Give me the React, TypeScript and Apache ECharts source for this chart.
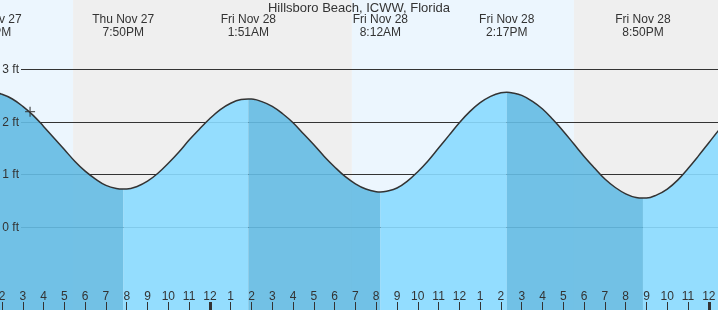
import React, { useEffect, useRef } from "react";
import * as echarts from "echarts";

const TITLE = "Hillsboro Beach, ICWW, Florida";
const FONT = "'Liberation Sans', Arial, sans-serif";

// time axis: hours since Thu Nov 27, 12:00 PM
const X_MIN = 1.904;
const X_MAX = 36.44;
const Y_MIN = -1.576;
const Y_MAX = 4.31;

// tide curve (hours, feet)
const hours = [1, 1.45, 1.5, 2, 2.5, 3, 3.5, 4, 4.5, 5, 5.5, 6, 6.5, 7, 7.5, 7.83, 8, 8.5, 9, 9.5, 10, 10.5, 11, 11.5, 12, 12.5, 13, 13.5, 13.85, 14, 14.5, 15, 15.5, 16, 16.5, 17, 17.5, 18, 18.5, 19, 19.5, 20, 20.2, 20.5, 21, 21.5, 22, 22.5, 23, 23.5, 24, 24.5, 25, 25.5, 26, 26.28, 26.5, 27, 27.5, 28, 28.5, 29, 29.5, 30, 30.5, 31, 31.5, 32, 32.5, 32.83, 33, 33.5, 34, 34.5, 35, 35.5, 36, 36.5, 37];
const heights = [2.54, 2.56, 2.56, 2.52, 2.43, 2.29, 2.12, 1.91, 1.69, 1.47, 1.25, 1.06, 0.91, 0.79, 0.73, 0.72, 0.72, 0.77, 0.87, 1.02, 1.21, 1.42, 1.65, 1.86, 2.06, 2.23, 2.35, 2.42, 2.43, 2.43, 2.38, 2.29, 2.15, 1.98, 1.77, 1.56, 1.34, 1.14, 0.96, 0.82, 0.72, 0.67, 0.665, 0.68, 0.74, 0.87, 1.05, 1.26, 1.5, 1.74, 1.98, 2.19, 2.36, 2.48, 2.55, 2.56, 2.55, 2.5, 2.39, 2.24, 2.04, 1.82, 1.58, 1.34, 1.12, 0.91, 0.75, 0.63, 0.56, 0.55, 0.55, 0.61, 0.72, 0.89, 1.11, 1.35, 1.6, 1.85, 2.07];

// high / low tides
const tideTimes = [1.45, 7.83, 13.85, 20.2, 26.28, 32.83];
const tideDays = ["Thu Nov 27", "Thu Nov 27", "Fri Nov 28", "Fri Nov 28", "Fri Nov 28", "Fri Nov 28"];
const tideClock = ["1:27PM", "7:50PM", "1:51AM", "8:12AM", "2:17PM", "8:50PM"];
const tideFalling = [true, false, true, false, true, false];

// daylight / night periods (start hour, end hour, 1 = day)
const periodStart = [X_MIN, 5.42, 18.83, 29.51];
const periodEnd = [5.42, 18.83, 29.51, X_MAX];
const periodDay = [1, 0, 1, 0];

const hourTicks = [2, 3, 4, 5, 6, 7, 8, 9, 10, 11, 12, 13, 14, 15, 16, 17, 18, 19, 20, 21, 22, 23, 24, 25, 26, 27, 28, 29, 30, 31, 32, 33, 34, 35, 36];
const midnightTicks = [12, 36];
const feetTicks = [0, 1, 2, 3];

const nowTime = 3.35;
const nowHeight = 2.19;

const DAY = "#ECF6FE";
const NIGHT = "#EFEFEF";
const FALL = "#64BBE3";
const RISE = "#8ADAFF";
const INK = "#333333";

export default function App() {
  const ref = useRef<HTMLDivElement>(null);

  useEffect(() => {
    if (!ref.current) return;
    const chart = echarts.init(ref.current, null, { renderer: "svg" });

    const segments: any[] = [];
    for (let i = 0; i < tideTimes.length; i++) {
      const s = tideTimes[i];
      const e = i + 1 < tideTimes.length ? tideTimes[i + 1] : Infinity;
      const pts: number[][] = [];
      hours.forEach((t, k) => {
        if (t >= s && t <= e) pts.push([t, heights[k]]);
      });
      segments.push({
        type: "line",
        xAxisIndex: 0,
        yAxisIndex: 0,
        z: 2,
        smooth: 0.4,
        symbol: "none",
        silent: true,
        data: pts,
        lineStyle: { width: 0, opacity: 0 },
        areaStyle: { color: tideFalling[i] ? FALL : RISE, opacity: 0.9, origin: "start" },
      });
    }

    const curve = hours.map((t, k) => [t, heights[k]]);
    const periods = periodStart.map((s, i) => [s, periodEnd[i], periodDay[i]]);
    const labels = tideTimes.map((t, i) => [t, i]);

    const commonX = { type: "value", min: X_MIN, max: X_MAX };

    chart.setOption({
      animation: false,
      textStyle: { fontFamily: FONT },
      title: {
        text: TITLE,
        left: "center",
        top: 1,
        padding: 0,
        textStyle: { fontSize: 13, fontWeight: "normal", color: INK, fontFamily: FONT },
      },
      grid: [
        { left: 0, right: 0, top: 0, bottom: 0, outerBoundsMode: "none" },
        { left: 21, right: 0, top: 0, bottom: 0, outerBoundsMode: "none" },
        { left: 0, right: 0, top: 0, bottom: 0, outerBoundsMode: "none" },
      ],
      xAxis: [
        {
          ...commonX,
          gridIndex: 0,
          position: "bottom",
          z: 4,
          axisLine: { show: false, onZero: false },
          splitLine: { show: false },
          axisTick: {
            show: true,
            inside: true,
            length: 8,
            customValues: hourTicks,
            lineStyle: { color: INK, width: 1 },
          },
          axisLabel: {
            show: true,
            inside: true,
            margin: 8,
            customValues: hourTicks,
            color: INK,
            fontSize: 12,
            fontFamily: FONT,
            formatter: (v: number) => String(((Math.round(v) - 1) % 12) + 1),
          },
        },
        { ...commonX, gridIndex: 1, show: false },
        {
          ...commonX,
          gridIndex: 2,
          position: "bottom",
          z: 4,
          axisLine: { show: false, onZero: false },
          splitLine: { show: false },
          axisLabel: { show: false },
          axisTick: {
            show: true,
            inside: true,
            length: 8,
            customValues: midnightTicks,
            lineStyle: { color: INK, width: 3 },
          },
        },
      ],
      yAxis: [
        { type: "value", gridIndex: 0, min: Y_MIN, max: Y_MAX, show: false },
        {
          type: "value",
          gridIndex: 1,
          min: Y_MIN,
          max: Y_MAX,
          z: 4,
          axisLine: { show: false, onZero: false },
          axisTick: { show: false },
          splitLine: { show: false },
          axisLabel: {
            show: true,
            margin: 2,
            customValues: feetTicks,
            color: INK,
            fontSize: 12,
            fontFamily: FONT,
            formatter: (v: number) => `${v} ft`,
          },
        },
        { type: "value", gridIndex: 2, min: Y_MIN, max: Y_MAX, show: false },
      ],
      series: [
        {
          type: "custom",
          xAxisIndex: 0,
          yAxisIndex: 0,
          z: 0,
          silent: true,
          data: periods,
          renderItem: (params: any, api: any) => {
            const a = api.coord([api.value(0), Y_MAX]);
            const b = api.coord([api.value(1), Y_MIN]);
            return {
              type: "rect",
              shape: { x: a[0], y: a[1], width: b[0] - a[0], height: b[1] - a[1] },
              style: { fill: api.value(2) === 1 ? DAY : NIGHT },
            };
          },
        },
        {
          type: "custom",
          xAxisIndex: 1,
          yAxisIndex: 1,
          z: 1,
          silent: true,
          data: feetTicks.map((v) => [X_MIN, v]),
          renderItem: (params: any, api: any) => {
            const p = api.coord([X_MIN, api.value(1)]);
            const cs = params.coordSys;
            const y = Math.round(p[1]) + 0.5;
            return {
              type: "line",
              shape: { x1: cs.x, y1: y, x2: cs.x + cs.width, y2: y },
              style: { stroke: INK, lineWidth: 1 },
            };
          },
        },
        ...segments,
        {
          type: "line",
          xAxisIndex: 0,
          yAxisIndex: 0,
          z: 3,
          smooth: 0.4,
          symbol: "none",
          silent: true,
          data: curve,
          lineStyle: { color: INK, width: 1.5 },
        },
        {
          type: "scatter",
          xAxisIndex: 0,
          yAxisIndex: 0,
          z: 5,
          silent: true,
          symbol: "path://M4.35,0 H5.65 V4.35 H10 V5.65 H5.65 V10 H4.35 V5.65 H0 V4.35 H4.35 Z",
          symbolSize: 10,
          itemStyle: { color: INK },
          data: [[nowTime, nowHeight]],
        },
        {
          type: "custom",
          xAxisIndex: 0,
          yAxisIndex: 0,
          z: 6,
          silent: true,
          data: labels,
          renderItem: (params: any, api: any) => {
            const p = api.coord([api.value(0), 0]);
            const i = api.value(1);
            return {
              type: "text",
              x: p[0],
              y: 12.5,
              style: {
                text: `${tideDays[i]}\n${tideClock[i]}`,
                textAlign: "center",
                textVerticalAlign: "top",
                fontSize: 12,
                lineHeight: 13,
                fontFamily: FONT,
                fill: INK,
              },
            };
          },
        },
      ],
    });

    return () => chart.dispose();
  }, []);

  return (
    <div
      ref={ref}
      style={{ position: "fixed", left: 0, top: 0, width: 718, height: 310 }}
    />
  );
}
